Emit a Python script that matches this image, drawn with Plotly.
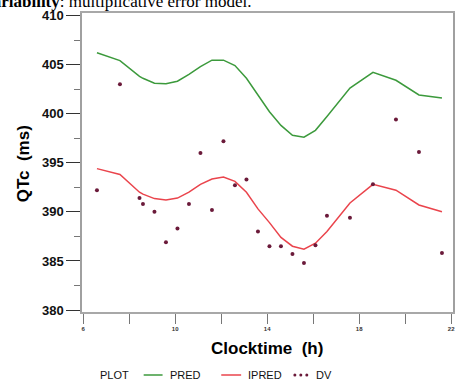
import plotly.graph_objects as go

# ---- data ----
clocktime = [6.6, 7.6, 8.45, 8.6, 9.1, 9.6, 10.1, 10.6, 11.1, 11.6, 12.1, 12.6, 13.1,
             13.6, 14.1, 14.6, 15.1, 15.6, 16.1, 16.6, 17.6, 18.6, 19.6, 20.6, 21.6]
pred = [406.2, 405.4, 403.8, 403.6, 403.1, 403.05, 403.3, 404.0, 404.8, 405.45, 405.45, 404.9, 403.6,
        401.9, 400.2, 398.8, 397.8, 397.6, 398.3, 399.7, 402.6, 404.2, 403.4, 401.9, 401.6]
ipred = [394.4, 393.8, 392.0, 391.8, 391.35, 391.2, 391.4, 392.0, 392.8, 393.35, 393.55, 393.1, 392.0,
         390.3, 388.9, 387.4, 386.5, 386.2, 386.8, 388.0, 390.9, 392.8, 392.2, 390.7, 390.0]
dv = [392.2, 403.0, 391.4, 390.8, 390.0, 386.9, 388.3, 390.8, 396.0, 390.2, 397.2, 392.7, 393.3,
      388.0, 386.5, 386.5, 385.7, 384.8, 386.6, 389.6, 389.4, 392.8, 399.4, 396.1, 385.8]

x_range = [5.95, 22.08]
y_range = [379.8, 410.25]

GREEN = "#3c9a3c"
RED = "#ea444c"
DVCOL = "#6b1a3a"
FONT = "Liberation Sans"

fig = go.Figure()
fig.add_trace(go.Scatter(x=clocktime, y=pred, mode="lines", name="PRED",
                         line=dict(color=GREEN, width=1.5), showlegend=False))
fig.add_trace(go.Scatter(x=clocktime, y=ipred, mode="lines", name="IPRED",
                         line=dict(color=RED, width=1.5), showlegend=False))
fig.add_trace(go.Scatter(x=clocktime, y=dv, mode="markers", name="DV",
                         marker=dict(color=DVCOL, size=4), showlegend=False))

fig.update_layout(
    width=457, height=390,
    margin=dict(l=82, r=2, t=13, b=78),
    paper_bgcolor="white", plot_bgcolor="white",
    font=dict(family=FONT, color="#111"),
)

fig.update_xaxes(
    range=x_range, showgrid=False, zeroline=False,
    showline=True, linecolor="#a8a8a8", linewidth=1.5, mirror=True,
    ticks="outside", ticklen=10, tickcolor="#777", tickwidth=1,
    tick0=6, dtick=4,
    tickfont=dict(size=6, color="#333", family=FONT, weight="bold"),
    minor=dict(dtick=2, tick0=6, ticks="outside", ticklen=10, tickcolor="#777", showgrid=False),
)
fig.update_yaxes(
    range=y_range, showgrid=False, zeroline=False,
    showline=True, linecolor="#a0a0a0", linewidth=1.5, mirror=True,
    ticks="outside", ticklen=14, tickcolor="#333", tickwidth=1.2,
    tick0=380, dtick=5,
    tickfont=dict(size=13, color="#111", family=FONT, weight="bold"),
    minor=dict(dtick=2.5, tick0=380, ticks="outside", ticklen=6, tickcolor="#777", showgrid=False),
)

def px_x(p):
    return (p - 82) / 373.0

def px_y(p):
    return (312 - p) / 299.0

ann = []
# cropped caption text at top
ann.append(dict(text="<b>Variability</b>: multiplicative error model.", xref="paper", yref="paper",
                x=px_x(-21), y=px_y(1), xanchor="left", yanchor="middle", showarrow=False,
                font=dict(family="Liberation Serif", size=17, color="#000")))
# axis titles
ann.append(dict(text="Clocktime  (h)", xref="paper", yref="paper", x=px_x(268), y=px_y(348),
                xanchor="center", yanchor="middle", showarrow=False,
                font=dict(family=FONT, size=17, color="#000", weight="bold")))
ann.append(dict(text="QTc  (ms)", xref="paper", yref="paper", x=px_x(23), y=px_y(164),
                xanchor="center", yanchor="middle", showarrow=False, textangle=-90,
                font=dict(family=FONT, size=17, color="#000", weight="bold")))
# legend
ly = px_y(375)
for txt, left in [("PLOT", 98), ("PRED", 168), ("IPRED", 247), ("DV", 315)]:
    ann.append(dict(text=txt, xref="paper", yref="paper", x=px_x(left), y=ly,
                    xanchor="left", yanchor="middle", showarrow=False,
                    font=dict(family=FONT, size=11, color="#111")))
fig.update_layout(annotations=ann)

shapes = []
shapes.append(dict(type="line", xref="paper", yref="paper", x0=px_x(144), x1=px_x(163),
                   y0=ly, y1=ly, line=dict(color=GREEN, width=1.5)))
shapes.append(dict(type="line", xref="paper", yref="paper", x0=px_x(222), x1=px_x(242),
                   y0=ly, y1=ly, line=dict(color=RED, width=1.5)))
for cx in [296, 302, 308]:
    shapes.append(dict(type="circle", xref="paper", yref="paper",
                       xsizemode="pixel", ysizemode="pixel",
                       xanchor=px_x(cx), yanchor=ly, x0=-1.5, x1=1.5, y0=-1.5, y1=1.5,
                       fillcolor=DVCOL, line=dict(width=0)))
fig.update_layout(shapes=shapes)

fig.write_html("out.html")
